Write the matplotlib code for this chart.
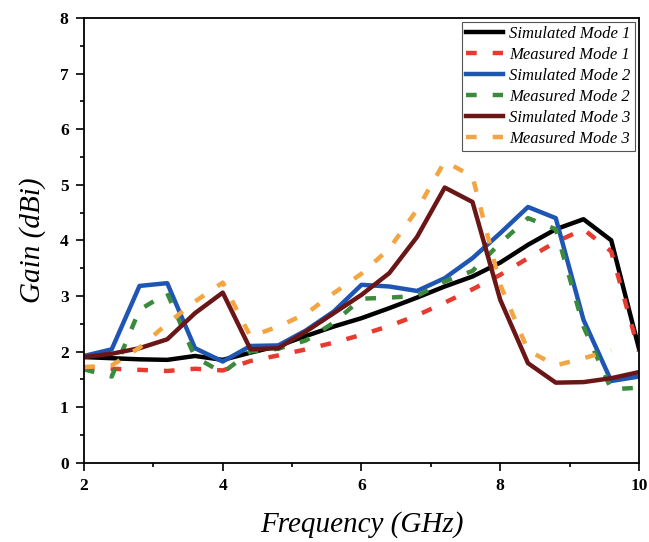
import matplotlib.pyplot as plt
import numpy as np

plt.rcParams['font.family'] = ['Liberation Serif', 'DejaVu Serif']

freq = [2.0, 2.4, 2.8, 3.2, 3.6, 4.0, 4.4, 4.8, 5.2, 5.6, 6.0,
        6.4, 6.8, 7.2, 7.6, 8.0, 8.4, 8.8, 9.2, 9.6, 10.0]

sim_mode1 = [1.90, 1.88, 1.86, 1.85, 1.92, 1.85, 1.98, 2.10, 2.28, 2.45, 2.60,
             2.78, 2.97, 3.17, 3.35, 3.60, 3.92, 4.20, 4.38, 4.00, 2.05]
meas_mode1 = [1.72, 1.69, 1.67, 1.65, 1.69, 1.66, 1.83, 1.93, 2.04, 2.16, 2.30,
              2.46, 2.65, 2.88, 3.12, 3.38, 3.68, 3.97, 4.20, 3.80, 2.00]
sim_mode2 = [1.92, 2.04, 3.18, 3.23, 2.06, 1.82, 2.10, 2.11, 2.38, 2.72, 3.20,
             3.17, 3.09, 3.32, 3.68, 4.13, 4.60, 4.40, 2.57, 1.47, 1.55]
meas_mode2 = [1.68, 1.55, 2.75, 3.05, 1.90, 1.62, 2.00, 2.05, 2.20, 2.52, 2.95,
              2.97, 3.00, 3.26, 3.45, 3.95, 4.40, 4.20, 2.45, 1.32, 1.35]
sim_mode3 = [1.90, 1.96, 2.06, 2.22, 2.69, 3.06, 2.04, 2.06, 2.36, 2.69, 3.02,
             3.41, 4.06, 4.95, 4.69, 2.93, 1.79, 1.44, 1.45, 1.52, 1.63]
meas_mode3 = [1.72, 1.75, 2.07, 2.50, 2.90, 3.24, 2.27, 2.45, 2.68, 3.05, 3.40,
              3.85, 4.55, 5.42, 5.15, 3.20, 2.02, 1.75, 1.88, 2.02, np.nan]

fig = plt.figure(figsize=(6.49, 5.42), dpi=100)
ax = fig.add_axes([0.1294, 0.1463, 0.8552, 0.8205])

lw = 3.2
dash = (0, (2.4, 3.6))
ax.plot(freq, sim_mode1, color='#000000', lw=lw, label='Simulated Mode 1')
ax.plot(freq, meas_mode1, color='#e63b2e', lw=lw, linestyle=dash, label='Measured Mode 1')
ax.plot(freq, sim_mode2, color='#1f56b4', lw=lw, label='Simulated Mode 2')
ax.plot(freq, meas_mode2, color='#3c8a3c', lw=lw, linestyle=dash, label='Measured Mode 2')
ax.plot(freq, sim_mode3, color='#6b1616', lw=lw, label='Simulated Mode 3')
ax.plot(freq, meas_mode3, color='#f2a541', lw=lw, linestyle=dash, label='Measured Mode 3')

ax.set_xlim(2, 10)
ax.set_ylim(0, 8)
ax.set_xticks([2, 4, 6, 8, 10])
ax.set_xticks([3, 5, 7, 9], minor=True)
ax.set_yticks(range(0, 9))
ax.set_yticks(np.arange(0.5, 8, 1.0), minor=True)
ax.tick_params(which='major', direction='out', length=6, width=1.2,
               labelsize=12.5, pad=5)
ax.tick_params(which='minor', direction='out', length=3, width=1.2)
for lab in ax.get_xticklabels() + ax.get_yticklabels():
    lab.set_fontweight('bold')
for s in ax.spines.values():
    s.set_linewidth(1.3)

ax.set_xlabel('Frequency (GHz)', fontsize=21, style='italic', labelpad=12)
ax.set_ylabel('Gain (dBi)', fontsize=21, style='italic', labelpad=10)

leg = ax.legend(loc='upper right', handlelength=2.2,
                handletextpad=0.4, labelspacing=0.3, borderpad=0.25,
                borderaxespad=0.25, fancybox=False, framealpha=1,
                prop={'style': 'italic', 'size': 12})
leg.get_frame().set_edgecolor('#555555')
leg.get_frame().set_linewidth(0.8)

fig.savefig('out.png', dpi=100)
